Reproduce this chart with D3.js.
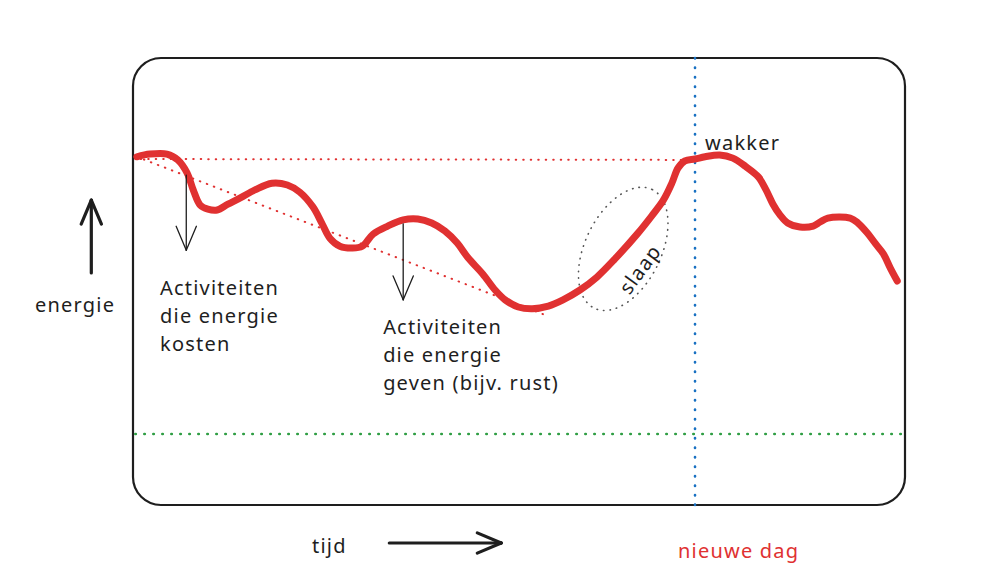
<!DOCTYPE html>
<html>
<head>
<meta charset="utf-8">
<script src="https://cdn.jsdelivr.net/npm/d3@7"></script>
<style>
  html, body { margin: 0; padding: 0; background: #fff; }
  svg text { font-family: "Noto Sans", sans-serif; font-size: 20px; fill: #1e1e1e; letter-spacing: 1.2px; }
</style>
</head>
<body>
<div id="chart"></div>
<script>
// energy curve, time 0..100, energy 0..100
var tijd = [0.5, 2.2, 4.4, 5.8, 7.0, 7.8, 8.7, 9.7, 10.9, 12.3, 13.9, 15.8, 18.0, 20.0, 21.6, 23.3,
    24.5, 25.5, 26.8, 28.4, 29.7, 31.1, 33.0, 35.0, 36.9, 38.7, 40.4, 42.0, 43.4, 45.3, 46.9, 48.2,
    49.9, 51.7, 53.8, 55.7, 57.9, 60.1, 62.4, 65.3, 67.2, 68.7, 69.8, 70.6, 71.5, 72.8, 74.1, 76.0,
    77.7, 79.3, 81.0, 82.0, 82.9, 83.8, 84.8, 86.4, 88.1, 89.0, 90.0, 92.9, 93.9, 95.1, 96.2, 97.2,
    98.1, 99.0
];
var energie = [77.9, 78.5, 78.5, 77.2, 74.3, 70.5, 67.1, 66.2, 66.0, 67.3, 68.7, 70.5, 72.0, 71.6, 70.0, 66.7,
    62.9, 59.7, 57.9, 57.5, 57.9, 60.6, 62.4, 63.8, 64.0, 63.1, 61.3, 58.6, 55.3, 51.7, 48.1, 45.9,
    44.3, 43.9, 44.5, 45.9, 48.1, 51.0, 55.0, 60.6, 64.7, 68.2, 72.0, 75.4, 77.0, 77.4, 77.9, 78.3,
    77.6, 75.8, 73.4, 70.5, 67.3, 64.9, 63.1, 62.2, 62.4, 63.3, 64.2, 64.2, 63.1, 60.9, 58.4, 56.2,
    53.0, 50.1
];

// reference lines: [t1, e1, t2, e2]
var startNiveau = [1.0, 77.4, 71.5, 77.2];
var afname = [0.5, 77.9, 53.4, 42.5];
var minimum = 15.9;
var nieuweDag = 72.8;

// arrows [t, eTop, eBottom] and axis arrows
var kostenPijl = [6.9, 73.8, 57.0];
var gevenPijl = [35.0, 62.9, 45.9];
var energiePijl = [-5.4, 51.9, 68.2];
var tijdPijl = [33.2, 47.7, -8.5];

// labels
var labelTeksten = [
    { t: 3.5, e: 47.0, lines: ['Activiteiten', 'die energie', 'kosten'] },
    { t: 32.4, e: 38.3, lines: ['Activiteiten', 'die energie', 'geven (bijv. rust)'] },
    { t: 74.1, e: 79.4, lines: ['wakker'] },
    { t: 23.2, e: -10.7, lines: ['tijd'] },
    { t: 70.6, e: -11.9, lines: ['nieuwe dag'], color: '#e03131' },
    { t: -7.5, e: 43.2, lines: ['energie'], anchor: 'middle' }
];
var slaapKring = { t: 63.5, e: 57.3 };
var slaapLabel = { t: 65.8, e: 52.6, label: 'slaap' };

var width = 982, height = 588;
var margin = { top: 58, right: 77, bottom: 83, left: 133 };

var x = d3.scaleLinear().domain([0, 100]).range([margin.left, width - margin.right]);
var y = d3.scaleLinear().domain([0, 100]).range([height - margin.bottom, margin.top]);

var svg = d3.select('#chart').append('svg')
    .attr('width', width)
    .attr('height', height);

// frame
svg.append('rect')
    .attr('x', x(0)).attr('y', y(100))
    .attr('width', x(100) - x(0)).attr('height', y(0) - y(100))
    .attr('rx', 28)
    .style('fill', 'none').style('stroke', '#1e1e1e').style('stroke-width', 2.2);

function dotted(g, x1, y1, x2, y2, color, w, dash) {
    g.append('line')
        .attr('x1', x1).attr('y1', y1).attr('x2', x2).attr('y2', y2)
        .style('stroke', color).style('stroke-width', w)
        .style('stroke-dasharray', dash).style('stroke-linecap', 'round');
}

var refs = svg.append('g');
dotted(refs, x(startNiveau[0]), y(startNiveau[1]), x(startNiveau[2]), y(startNiveau[3]), '#e03131', 2, '0.5 7');
dotted(refs, x(afname[0]), y(afname[1]), x(afname[2]), y(afname[3]), '#e03131', 2, '0.5 7');
dotted(refs, x(0.3), y(minimum), x(100), y(minimum), '#2f9e44', 2.6, '0.5 8.5');
dotted(refs, x(nieuweDag), y(100), x(nieuweDag), y(0), '#1971c2', 2.6, '0.5 9');

// slaap ellipse
svg.append('ellipse')
    .attr('cx', 0).attr('cy', 0).attr('rx', 66).attr('ry', 38)
    .attr('transform', 'translate(' + x(slaapKring.t) + ',' + y(slaapKring.e) + ') rotate(-64)')
    .style('fill', 'none').style('stroke', '#555').style('stroke-width', 1.6)
    .style('stroke-dasharray', '0.5 6').style('stroke-linecap', 'round');

// energy curve
var lijn = d3.line()
    .x(function (d, i) { return x(tijd[i]); })
    .y(function (d) { return y(d); })
    .curve(d3.curveCatmullRom);

svg.append('path')
    .datum(energie)
    .attr('d', lijn)
    .style('fill', 'none')
    .style('stroke', '#e03131')
    .style('stroke-width', 7)
    .style('stroke-linecap', 'round')
    .style('stroke-linejoin', 'round');

// arrows
function pijl(x1, y1, x2, y2, w) {
    var a = Math.atan2(y2 - y1, x2 - x1), len = 26, spread = 0.4;
    var g = svg.append('g').style('stroke', '#1e1e1e').style('stroke-width', w)
        .style('fill', 'none').style('stroke-linecap', 'round');
    g.append('line').attr('x1', x1).attr('y1', y1).attr('x2', x2).attr('y2', y2);
    [-spread, spread].forEach(function (s) {
        g.append('line')
            .attr('x1', x2 - len * Math.cos(a + s)).attr('y1', y2 - len * Math.sin(a + s))
            .attr('x2', x2).attr('y2', y2);
    });
}
pijl(x(kostenPijl[0]), y(kostenPijl[1]), x(kostenPijl[0]), y(kostenPijl[2]), 1.3);
pijl(x(gevenPijl[0]), y(gevenPijl[1]), x(gevenPijl[0]), y(gevenPijl[2]), 1.3);
pijl(x(energiePijl[0]), y(energiePijl[1]), x(energiePijl[0]), y(energiePijl[2]), 3.2);
pijl(x(tijdPijl[0]), y(tijdPijl[2]), x(tijdPijl[1]), y(tijdPijl[2]), 3.2);

// labels
labelTeksten.forEach(function (l) {
    var t = svg.append('text')
        .attr('x', x(l.t)).attr('y', y(l.e))
        .attr('text-anchor', l.anchor || 'start')
        .style('fill', l.color || '#1e1e1e');
    l.lines.forEach(function (s, i) {
        t.append('tspan').attr('x', x(l.t)).attr('dy', i === 0 ? 0 : 28).text(s);
    });
});

svg.append('text')
    .attr('transform', 'translate(' + x(slaapLabel.t) + ',' + y(slaapLabel.e) + ') rotate(-54)')
    .attr('text-anchor', 'middle')
    .attr('dy', 6)
    .text(slaapLabel.label);
</script>
</body>
</html>
